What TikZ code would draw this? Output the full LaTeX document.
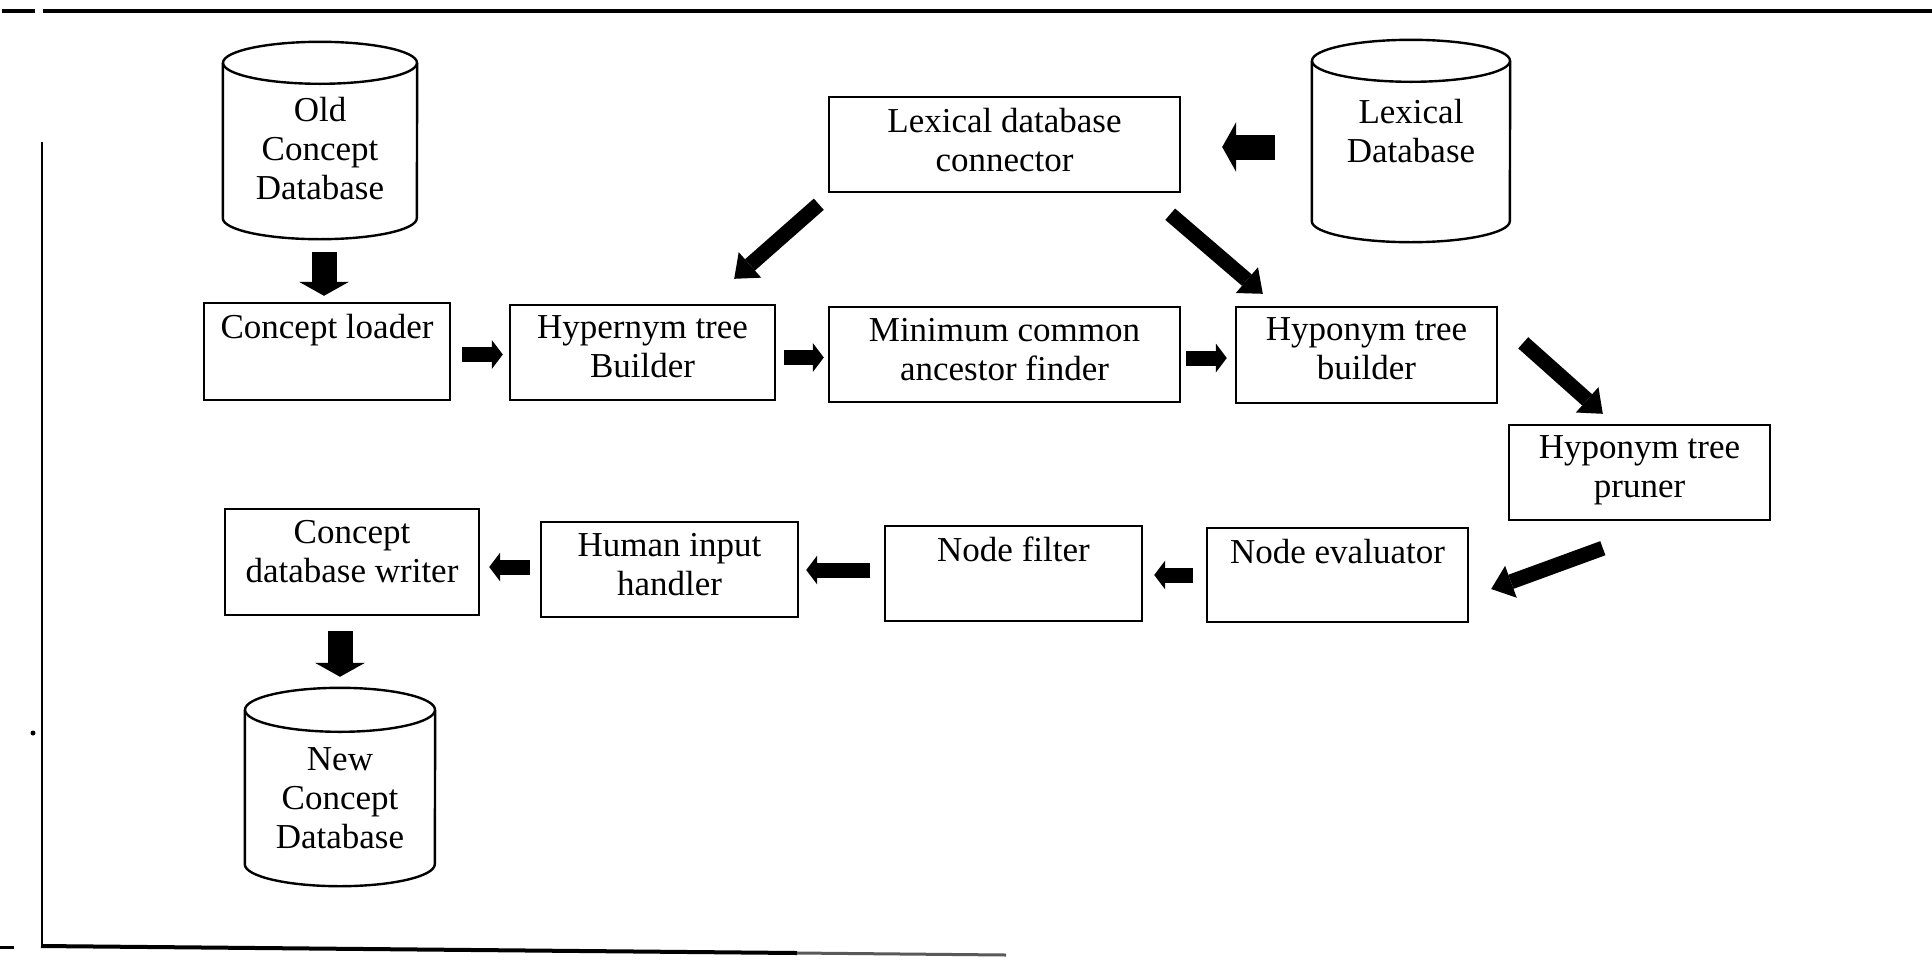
\documentclass[tikz,border=0pt]{standalone}
\usepackage{fontspec}
\setmainfont{Liberation Serif}
\usetikzlibrary{arrows.meta,calc}

% cylinder outline around a (hidden) rectangular node: name, x radius, y radius
\newcommand\dbcyl[3]{%
  \draw[dbline] ($(#1.north)+(0,-#3)$) ellipse [x radius=#2, y radius=#3];
  \draw[dbline] ($(#1.north west)+(0,-#3)$) -- ($(#1.south west)+(0,#3)$)
    arc[start angle=180, end angle=360, x radius=#2, y radius=#3]
    -- ($(#1.north east)+(0,-#3)$);
}

\begin{document}
\begin{tikzpicture}[x=1pt,y=1pt,
  every label/.style={inner sep=0pt, align=center, font=\fontsize{35}{39}\selectfont},
  box/.style={draw, line width=2.4pt, inner sep=0pt},
  dbnode/.style={inner sep=0pt},
  dbline/.style={line width=2.4pt},
  txt/.style={label={[anchor=north, yshift=-12pt]north:#1}},
  dbtxt/.style 2 args={label={[anchor=north, yshift=-#1pt]north:#2}},
  bigarr/.style={line width=25pt, -{Triangle[length=14pt,width=50pt,line width=0pt]}},
  smallarr/.style={line width=15pt, -{Triangle[length=11pt,width=29pt,line width=0pt]}},
  diagarr/.style={line width=15pt, -{Triangle[length=21pt,width=34pt,line width=0pt]}},
  frame/.style={line width=4pt},
]
\useasboundingbox (0,0) rectangle (1932,-959);

% outer frame fragments
\draw[frame] (2,-11) -- (35,-11);
\draw[frame] (43,-11) -- (1932,-11);
\draw[line width=2.5pt] (42,-142) -- (42,-946);
\draw[frame] (41,-946) -- (797,-953);
\draw[line width=3pt, black!65] (797,-953) -- (1006,-955);
\draw[line width=3pt] (0,-947) -- (14,-947);
\fill (33,-733) circle (2.5);

% databases
\node[dbnode, minimum width=194pt, minimum height=197pt, dbtxt={55}{Old\\Concept\\Database}] (olddb) at (320,-140.5) {};
\dbcyl{olddb}{97}{21}
\node[dbnode, minimum width=198pt, minimum height=202pt, dbtxt={59}{Lexical\\Database}] (lexdb) at (1411,-141) {};
\dbcyl{lexdb}{99}{21}
\node[dbnode, minimum width=190pt, minimum height=198pt, dbtxt={60}{New\\Concept\\Database}] (newdb) at (340,-787) {};
\dbcyl{newdb}{95}{22}

% processing components
\node[box, minimum width=246pt, minimum height=97pt, txt={Concept loader}] (loader) at (327,-351.5) {};
\node[box, minimum width=265pt, minimum height=95pt, txt={Hypernym tree\\Builder}] (hyper) at (642.5,-352.5) {};
\node[box, minimum width=351pt, minimum height=95pt, txt={Minimum common\\ancestor finder}] (mca) at (1004.5,-354.5) {};
\node[box, minimum width=261pt, minimum height=96pt, txt={Hyponym tree\\builder}] (hypob) at (1366.5,-355) {};
\node[box, minimum width=351pt, minimum height=95pt, txt={Lexical database\\connector}] (lexconn) at (1004.5,-144.5) {};
\node[box, minimum width=261pt, minimum height=95pt, txt={Hyponym tree\\pruner}] (pruner) at (1639.5,-472.5) {};
\node[box, minimum width=261pt, minimum height=94pt, txt={Node evaluator}] (neval) at (1337.5,-575) {};
\node[box, minimum width=257pt, minimum height=95pt, txt={Node filter}] (nfilter) at (1013.5,-573.5) {};
\node[box, minimum width=257pt, minimum height=95pt, txt={Human input\\handler}] (human) at (669.5,-569.5) {};
\node[box, minimum width=254pt, minimum height=106pt, txt={Concept\\database writer}] (writer) at (352,-562) {};

% database arrows
\draw[bigarr, shorten <=13pt, shorten >=6pt] ($(olddb.south)+(4,0)$) -- ($(olddb.south |- loader.north)+(4,0)$);
\draw[bigarr, shorten <=37pt, shorten >=41pt] ($(lexconn.east -| lexdb.west)+(0,-2.5)$) -- ($(lexconn.east)+(0,-2.5)$);
\draw[bigarr, shorten <=15pt, shorten >=11pt] (writer.south -| newdb.north) -- (newdb.north);

% upper row
\draw[smallarr, shorten <=11pt, shorten >=6pt] ($(loader.east)+(0,-3)$) -- ($(loader.east -| hyper.west)+(0,-3)$);
\draw[smallarr, shorten <=8pt, shorten >=4pt] ($(hyper.east)+(0,-5)$) -- ($(hyper.east -| mca.west)+(0,-5)$);
\draw[smallarr, shorten <=5pt, shorten >=8pt] ($(mca.east)+(0,-3.5)$) -- ($(mca.east -| hypob.west)+(0,-3.5)$);

% lower row
\draw[smallarr, shorten <=13pt, shorten >=11pt] (neval.west) -- (neval.west -| nfilter.east);
\draw[smallarr, shorten <=14pt, shorten >=7pt] ($(nfilter.west)+(0,3.5)$) -- ($(nfilter.west -| human.east)+(0,3.5)$);
\draw[smallarr, shorten <=10pt, shorten >=9pt] ($(human.west)+(0,2.5)$) -- ($(human.west -| writer.east)+(0,2.5)$);

% diagonal arrows
\draw[diagarr] ($(lexconn.south west)+(-9,-11)$) -- ($(hyper.north east)+(-42,25)$);
\draw[diagarr] ($(lexconn.south east)+(-11,-21)$) -- ($(hypob.north west)+(28,12)$);
\draw[diagarr] ($(hypob.north east)+(25,-37)$) -- ($(pruner.north west)+(95,10)$);
\draw[diagarr] ($(pruner.south west)+(95,-27)$) -- ($(neval.east)+(22,-14)$);
\end{tikzpicture}
\end{document}
